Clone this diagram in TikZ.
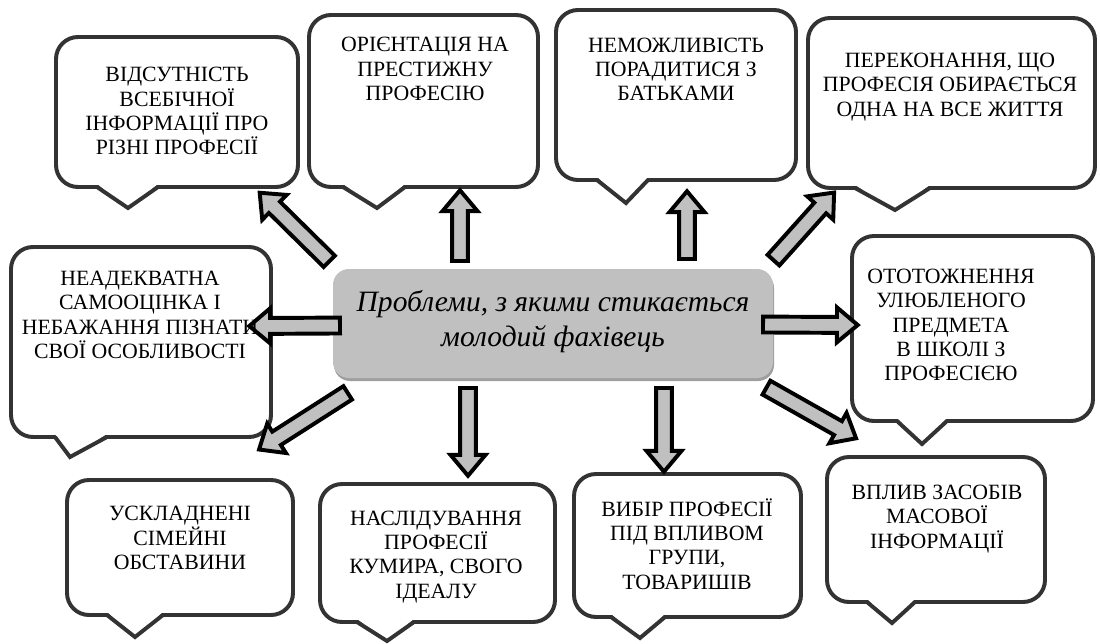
\documentclass[tikz,border=0pt]{standalone}
\usepackage{fontspec}
\setmainfont{Liberation Serif}
\usetikzlibrary{shapes.arrows,calc,fit,positioning}
\definecolor{boxline}{HTML}{333333}
\definecolor{hubgray}{HTML}{C0C0C0}
\tikzset{
  callout/.style={draw=boxline, line width=2.8pt, rounded corners=0.55cm, fill=white, inner sep=0pt},
  tailline/.style={draw=boxline, line width=2.8pt, line join=miter},
  ctext/.style={align=center, font=\fontsize{15.5}{17.2}\selectfont, inner sep=0pt},
  hubbox/.style={fill=hubgray, rounded corners=0.4cm, inner sep=0pt},
  hubtext/.style={align=center, font=\fontsize{21}{25}\selectfont\itshape, inner sep=0pt},
  blockarrow/.style={single arrow, draw=black, fill=hubgray, line width=2.8pt, inner sep=4.25pt,
    single arrow head extend=6.75pt, single arrow tip angle=80, outer sep=0pt}
}
% block arrow between two named points
\newcommand{\barrow}[2]{%
  \path let \p1=($(#2)-(#1)$), \n1={atan2(\y1,\x1)}, \n2={veclen(\x1,\y1)} in
    node[blockarrow, minimum height=\n2, rotate=\n1] at ($(#1)!0.5!(#2)$) {};}

\begin{document}
\begin{tikzpicture}[x=0.025cm,y=-0.025cm]
\useasboundingbox (0,0) rectangle (1100,644);

% callouts with tails
\foreach \n/\xa/\ya/\xb/\yb/\bl/\tx/\ty/\br in {
  1/56/37/298/187/97/128/208/158,
  2/309/15/538/187/343/377/208/405,
  3/556/10/796/180/597/626/203/648,
  4/808/18/1095/188/855/895/210/930,
  5/11/247/271/437/55/70/457/107,
  6/852/236/1093/421/897/922/444/947,
  7/67/480/293/615/107/135/637/163,
  8/320/484/555/622/357/387/641/414,
  9/574/474/801/617/611/640/638/665,
  10/827/457/1045/602/867/892/623/915}{
  \node[callout, fit={(\xa,\ya) (\xb,\yb)}] (c\n) {};
  \fill[white] (\bl,\yb-3) -- (\tx,\ty) -- (\br,\yb-3) -- cycle;
  \draw[tailline] (\bl,\yb) -- (\tx,\ty) -- (\br,\yb);
}

% central box
\node[hubbox, fill=gray!75, fit={(334,272) (774,381)}] (hubshadow) {};
\node[hubbox, fit={(333,269) (773,378)}] (hub) {};
\node[hubtext] (hubtxt) at ($(hub.center)+(0,-2)$) {Проблеми, з якими стикається\\молодий фахівець};

% arrows
\foreach \i/\anc/\dx/\dy/\ex/\ey in {
  1/north west/0/-4/263/196,
  2/north/-93/-3/460/195,
  3/north/134/-5/687/196,
  4/north east/-3/-5/831/196,
  5/west/12/2/254/326,
  6/east/-15/1/853/325,
  7/south west/19/12/263/447,
  8/south/-85/5/468/471,
  9/south/111/5/664/467,
  10/south east/-11/7/852/436}{
  \coordinate (from\i) at ($(hub.\anc)+(\dx,\dy)$);
  \coordinate (to\i) at (\ex,\ey);
  \barrow{from\i}{to\i}
}

\node[ctext] (t1) at (177,111) {ВІДСУТНІСТЬ\\ВСЕБІЧНОЇ\\ІНФОРМАЦІЇ ПРО\\РІЗНІ ПРОФЕСІЇ};
\node[ctext] (t2) at (425,69) {ОРІЄНТАЦІЯ НА\\ПРЕСТИЖНУ\\ПРОФЕСІЮ};
\node[ctext] (t3) at (676,69) {НЕМОЖЛИВІСТЬ\\ПОРАДИТИСЯ З\\БАТЬКАМИ};
\node[ctext] (t4) at (950,87) {ПЕРЕКОНАННЯ, ЩО\\ПРОФЕСІЯ ОБИРАЄТЬСЯ\\ОДНА НА ВСЕ ЖИТТЯ};
\node[ctext] (t5) at (140,315) {НЕАДЕКВАТНА\\САМООЦІНКА І\\НЕБАЖАННЯ ПІЗНАТИ\\СВОЇ ОСОБЛИВОСТІ};
\node[ctext] (t6) at (951,325) {ОТОТОЖНЕННЯ\\УЛЮБЛЕНОГО\\ПРЕДМЕТА\\В ШКОЛІ З\\ПРОФЕСІЄЮ};
\node[ctext] (t7) at (180,538) {УСКЛАДНЕНІ\\СІМЕЙНІ\\ОБСТАВИНИ};
\node[ctext] (t8) at (436,557) {НАСЛІДУВАННЯ\\ПРОФЕСІЇ\\КУМИРА, СВОГО\\ІДЕАЛУ};
\node[ctext] (t9) at (687,544) {ВИБІР ПРОФЕСІЇ\\ПІД ВПЛИВОМ\\ГРУПИ,\\ТОВАРИШІВ};
\node[ctext] (t10) at (937,519) {ВПЛИВ ЗАСОБІВ\\МАСОВОЇ\\ІНФОРМАЦІЇ};
\end{tikzpicture}
\end{document}
